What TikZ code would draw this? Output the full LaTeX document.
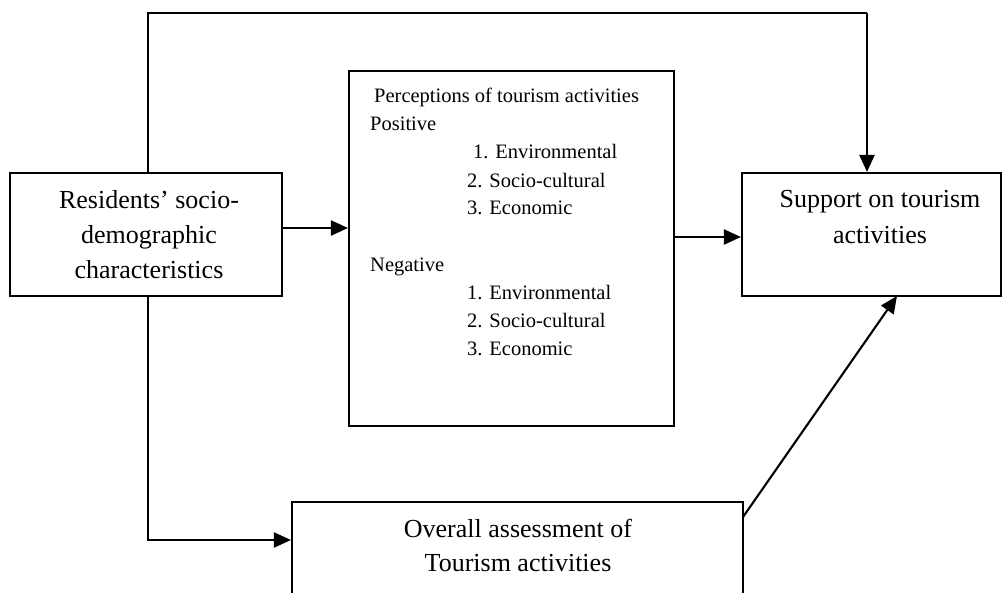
\documentclass[tikz,border=0pt]{standalone}
\usepackage{fontspec}
\setmainfont{Liberation Serif}
\usetikzlibrary{arrows.meta}
\begin{document}
\begin{tikzpicture}[x=1pt,y=-1pt,
  box/.style={draw,line width=2.1pt,inner sep=0pt},
  conn/.style={line width=2.1pt,-{Triangle[length=17pt,width=15pt]}},
  plain/.style={line width=2.1pt},
  big/.style={font=\fontsize{26}{35}\selectfont,inner sep=0pt,anchor=base},
  small/.style={font=\fontsize{20.5}{28}\selectfont,inner sep=0pt,anchor=base west}]
\useasboundingbox (0,0) rectangle (1003,592);
\clip (0,0) rectangle (1003,592);
% boxes
\node[box,minimum width=272pt,minimum height=123pt] (res) at (146,234.5) {};
\node[box,minimum width=325pt,minimum height=355pt] (perc) at (511.5,248.5) {};
\node[box,minimum width=259pt,minimum height=123pt] (supp) at (871.5,234.5) {};
\node[box,minimum width=451pt,minimum height=130pt] (over) at (517.5,567) {};
% texts
\node[big] (r1) at (149,208) {Residents’ socio-};
\node[big] (r2) at (149,243) {demographic};
\node[big] (r3) at (149,278) {characteristics};
\node[big] (s1) at (880,207) {Support on tourism};
\node[big] (s2) at (880,243) {activities};
\node[big] (o1) at (518,537) {Overall assessment of};
\node[big] (o2) at (518,571) {Tourism activities};
\node[small] (p0) at (374,102) {Perceptions of tourism activities};
\node[small] (p1) at (370,130) {Positive};
\node[small] (p2) at (473,158) {1. Environmental};
\node[small] (p3) at (467,187) {2. Socio-cultural};
\node[small] (p4) at (467,214) {3. Economic};
\node[small] (n1) at (370,271) {Negative};
\node[small] (n2) at (467,299) {1. Environmental};
\node[small] (n3) at (467,327) {2. Socio-cultural};
\node[small] (n4) at (467,355) {3. Economic};
% connector helpers
\coordinate (lx) at (148,0);
\coordinate (top) at (867,13);
\coordinate (ya) at (0,228);
\coordinate (yb) at (0,237);
\coordinate (yc) at (0,540);
\coordinate (d1) at (743,517);
\coordinate (d2) at (897,296);
% connectors
\draw[plain] (res.north -| lx) |- (top);
\draw[conn] (top) -- (top |- supp.north);
\draw[conn] (res.east |- ya) -- (perc.west |- ya);
\draw[conn] (perc.east |- yb) -- (supp.west |- yb);
\draw[conn] (res.south -| lx) |- (over.west |- yc);
\draw[conn] (d1) -- (d2);
\end{tikzpicture}
\end{document}
